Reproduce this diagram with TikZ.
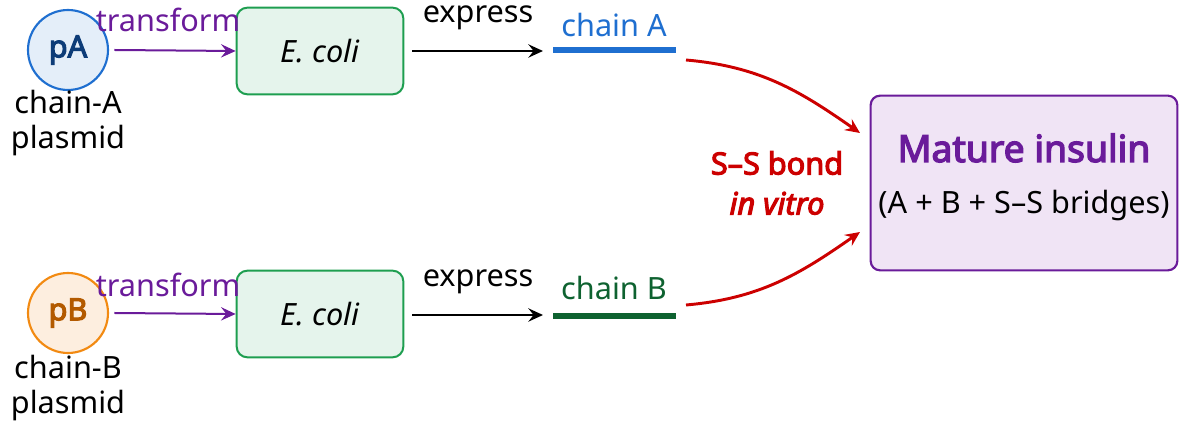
\documentclass[tikz,border=0pt]{standalone}
\usepackage{fontspec}
\setmainfont{Noto Sans}[BoldFont={Noto Sans}, BoldFeatures={FakeBold=3.5},
  BoldItalicFont={Noto Sans Italic}, BoldItalicFeatures={FakeBold=3.5}]
\usetikzlibrary{arrows.meta}
\definecolor{plasA}{HTML}{1F6FD0}
\definecolor{plasAfill}{HTML}{E4EEF9}
\definecolor{plasAtxt}{HTML}{0D3C78}
\definecolor{plasB}{HTML}{F28A12}
\definecolor{plasBfill}{HTML}{FDEEDF}
\definecolor{plasBtxt}{HTML}{B35A00}
\definecolor{cellgreen}{HTML}{1E9E50}
\definecolor{cellfill}{HTML}{E5F4EC}
\definecolor{chainB}{HTML}{0E6230}
\definecolor{bondred}{HTML}{CC0000}
\definecolor{insviolet}{HTML}{6A1B9A}
\definecolor{insfill}{HTML}{F0E4F5}
\tikzset{
  plasmid/.style={circle, line width=1.6pt, minimum size=60pt, inner sep=0pt, font=\bfseries},
  cell/.style={draw=cellgreen, fill=cellfill, rounded corners=8pt, line width=1.5pt,
    minimum width=125pt, minimum height=65pt, font=\itshape},
  lbl/.style={inner sep=0pt, align=center},
  arr/.style={-{Stealth[length=11pt,width=10pt,inset=4pt]}, line width=1.5pt},
  bond/.style={arr, bondred, line width=2.2pt}
}
\begin{document}
\fontsize{23}{26}\selectfont
\begin{tikzpicture}[x=0.75pt,y=-0.75pt]
\useasboundingbox (0,0) rectangle (1179,423);
% chain A
\node[plasmid, draw=plasA, fill=plasAfill, text=plasAtxt] (pA) at (68,50) {pA};
\node[lbl] (pAlbl) at (68,123) {chain-A\\plasmid};
\node[cell] (cellA) at (320,51) {E. coli};
\draw[arr, insviolet] (pA.east) ++(4pt,0) coordinate (tA) -- (cellA.west);
\node[lbl, text=insviolet] (trA) at (168,20) {transform};
\coordinate (exA) at (412,51);
\coordinate (chAl) at (553,50);
\coordinate (chAr) at (676,50);
\draw[arr] (exA) -- (543,51) coordinate (exAend);
\node[lbl] (expA) at (478,18) {express};
\draw[plasA, line width=4pt] (chAl) -- (chAr);
\node[lbl, text=plasA] (chA) at (614,25) {chain A};
% chain B
\node[plasmid, draw=plasB, fill=plasBfill, text=plasBtxt] (pB) at (68,313) {pB};
\node[lbl] (pBlbl) at (68,388) {chain-B\\plasmid};
\node[cell] (cellB) at (320,314) {E. coli};
\draw[arr, insviolet] (pB.east) ++(4pt,0) coordinate (tB) -- (cellB.west);
\node[lbl, text=insviolet] (trB) at (168,285) {transform};
\coordinate (exB) at (412,315);
\coordinate (chBl) at (553,316);
\coordinate (chBr) at (676,316);
\draw[arr] (exB) -- (543,315) coordinate (exBend);
\node[lbl] (expB) at (478,282) {express};
\draw[chainB, line width=4pt] (chBl) -- (chBr);
\node[lbl, text=chainB] (chB) at (614,288) {chain B};
% product
\node[draw=insviolet, fill=insfill, line width=1.6pt, rounded corners=7pt,
  minimum width=230pt, minimum height=131pt] (ins) at (1024,183) {};
\node[lbl, text=insviolet, font=\fontsize{28}{30}\selectfont\bfseries] (insT) at (1024,148) {Mature insulin};
\node[lbl] (insS) at (1024,206) {(A + B + S–S bridges)};
\draw[bond] (686,60) coordinate (bA) to[out=-5, in=145] (860,133);
\draw[bond] (686,305) coordinate (bB) to[out=5, in=-145] (860,232);
\node[lbl, text=bondred, font=\fontsize{23}{30}\selectfont\bfseries] (ss) at (777,183) {S–S bond\\\itshape in vitro};
\end{tikzpicture}
\end{document}
